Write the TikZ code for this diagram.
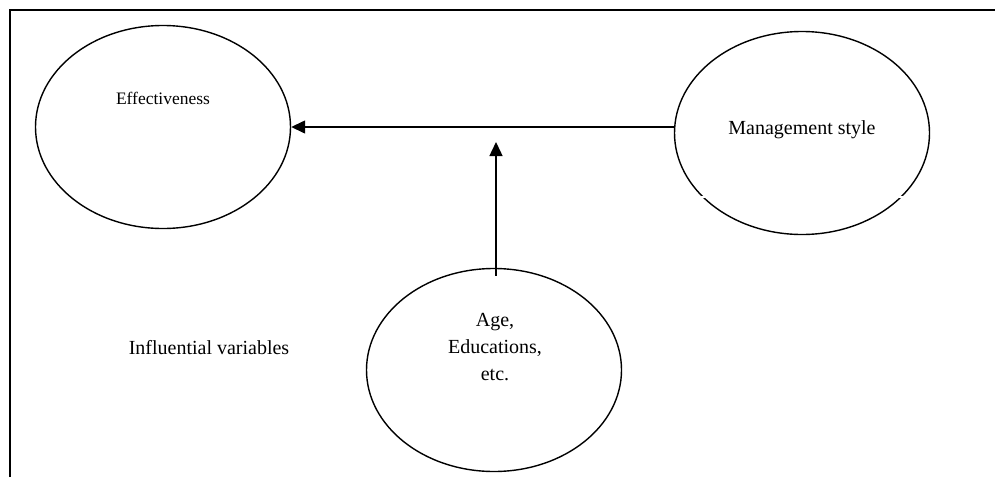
\documentclass[tikz,border=0pt]{standalone}
\usepackage{fontspec}
\setmainfont{Liberation Serif}
\usetikzlibrary{shapes.geometric,arrows.meta}
\tikzset{
  oval/.style={draw,ellipse,line width=1.4pt,minimum width=255pt,minimum height=203pt,inner sep=0pt},
  arr/.style={line width=1.4pt,-{Triangle[length=14pt,width=13pt]}},
  lbl/.style={font=\fontsize{20}{27}\selectfont,align=center}
}
\begin{document}
\begin{tikzpicture}[x=1pt,y=-1pt]
  \useasboundingbox (0,0) rectangle (995,477);
  \draw[line width=2pt] (9.5,477) -- (9.5,10) -- (995,10);
  \node[oval] (eff) at (163,127) {};
  \node[oval] (mgmt) at (802,133) {};
  \node[oval] (age) at (494,370) {};
  \node[lbl,font=\fontsize{17.5}{21}\selectfont] (efftxt) at (163,98) {Effectiveness};
  \node[lbl] (mgmttxt) at (802,130) {Management style};
  \node[lbl] (agetxt) at (495,347) {Age,\\Educations,\\etc.};
  \node[lbl] (infl) at (209,348) {Influential variables};
  \foreach \x in {703,901} \draw[white,line width=2.5pt] (\x-2,197) -- (\x+2,197);
  \coordinate (tip) at (496,142);
  \draw[arr] (eff.east -| mgmt.west) -- (eff.east);
  \draw[arr] ([xshift=2pt,yshift=-8pt]age.north) -- (tip);
\end{tikzpicture}
\end{document}
